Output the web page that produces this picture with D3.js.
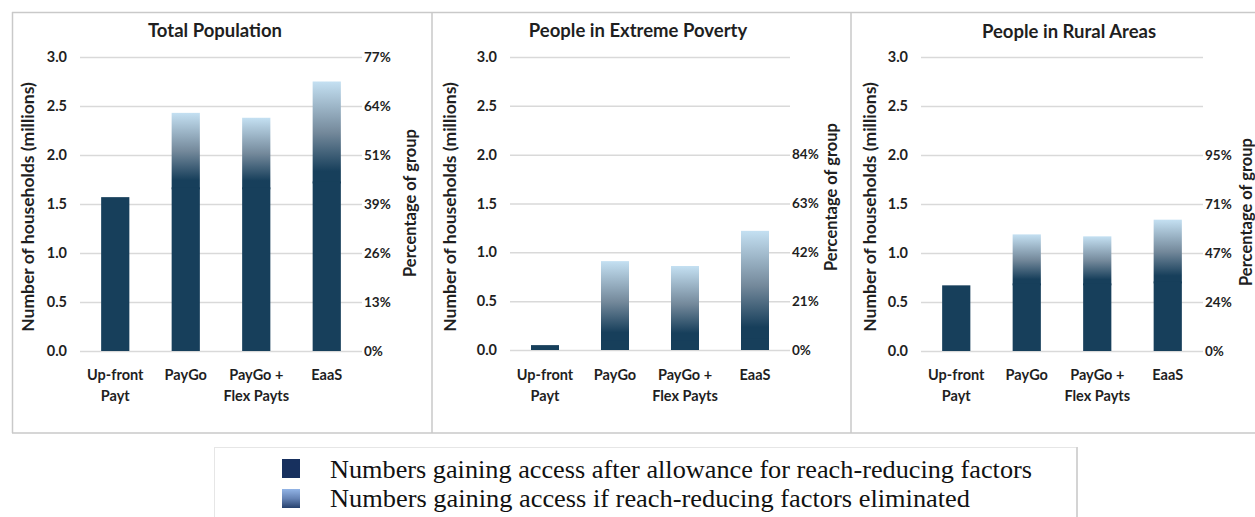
<!DOCTYPE html>
<html>
<head>
<meta charset="utf-8">
<script src="https://cdn.jsdelivr.net/npm/d3@7"></script>
<style>
  html, body { margin: 0; padding: 0; background: #ffffff; }
  svg { display: block; }
</style>
</head>
<body>
<svg id="chart" width="1255" height="517"></svg>
<script>
// ---------------- DATA ----------------
const categories = [["Up-front", "Payt"], ["PayGo"], ["PayGo +", "Flex Payts"], ["EaaS"]];
const panelTitles = ["Total Population", "People in Extreme Poverty", "People in Rural Areas"];
const yTickValues = [0, 0.5, 1.0, 1.5, 2.0, 2.5, 3.0];

// Numbers gaining access after allowance for reach-reducing factors (millions)
const afterTotal   = [1.57, 1.67, 1.67, 1.73];
const afterPoverty = [0.05, 0.10, 0.10, 0.12];
const afterRural   = [0.67, 0.69, 0.69, 0.71];

// Numbers gaining access if reach-reducing factors eliminated (millions)
const elimTotal   = [1.57, 2.43, 2.38, 2.75];
const elimPoverty = [0.05, 0.91, 0.86, 1.22];
const elimRural   = [0.67, 1.19, 1.17, 1.34];

// Secondary axis tick labels (percentage of group)
const pctTotal   = ["0%", "13%", "26%", "39%", "51%", "64%", "77%"];
const pctPoverty = ["0%", "21%", "42%", "63%", "84%"];
const pctRural   = ["0%", "24%", "47%", "71%", "95%"];

const leftAxisTitle = "Number of households (millions)";
const rightAxisTitle = "Percentage of group";
const legendLabels = [
  "Numbers gaining access after allowance for reach-reducing factors",
  "Numbers gaining access if reach-reducing factors eliminated"
];

// ---------------- LAYOUT ----------------
const panels = [
  { title: panelTitles[0], after: afterTotal, elim: elimTotal, pct: pctTotal,
    x0: 80, x1: 362, yTop: 57, yBot: 351, titleX: 215, titleY: 37,
    lTitleX: 28, lTitleY: 207, rTitleX: 410, rTitleY: 203 },
  { title: panelTitles[1], after: afterPoverty, elim: elimPoverty, pct: pctPoverty,
    x0: 510, x1: 790, yTop: 57, yBot: 350, titleX: 638, titleY: 37,
    lTitleX: 450, lTitleY: 207, rTitleX: 831, rTitleY: 197 },
  { title: panelTitles[2], after: afterRural, elim: elimRural, pct: pctRural,
    x0: 921, x1: 1203, yTop: 57, yBot: 351, titleX: 1069, titleY: 38,
    lTitleX: 870, lTitleY: 207, rTitleX: 1246, rTitleY: 212 }
];

const FONT = "Lato, 'Open Sans', sans-serif";
const TEXT = "#1f1f1f";
const DARK = "#173f5b";
const GRID = "#d9d9d9";
const BORDER = "#c9c9c9";

const svg = d3.select("#chart");
const defs = svg.append("defs");

const grad = defs.append("linearGradient")
  .attr("id", "barGrad").attr("x1", 0).attr("y1", 1).attr("x2", 0).attr("y2", 0);
grad.append("stop").attr("offset", "0%").attr("stop-color", DARK);
grad.append("stop").attr("offset", "12%").attr("stop-color", DARK);
grad.append("stop").attr("offset", "50%").attr("stop-color", "#74899b");
grad.append("stop").attr("offset", "100%").attr("stop-color", "#c4e0f2");

const legGrad = defs.append("linearGradient")
  .attr("id", "legGrad").attr("x1", 0).attr("y1", 1).attr("x2", 0).attr("y2", 0);
legGrad.append("stop").attr("offset", "0%").attr("stop-color", "#26416d");
legGrad.append("stop").attr("offset", "50%").attr("stop-color", "#6583b5");
legGrad.append("stop").attr("offset", "100%").attr("stop-color", "#92b4e6");

// panel borders
const borders = svg.append("g").attr("stroke", BORDER).attr("stroke-width", 1.5).attr("fill", "none");
borders.append("line").attr("x1", 12).attr("x2", 1255).attr("y1", 12.5).attr("y2", 12.5);
borders.append("line").attr("x1", 12).attr("x2", 1255).attr("y1", 433).attr("y2", 433);
[12.5, 432, 851].forEach(x =>
  borders.append("line").attr("x1", x).attr("x2", x).attr("y1", 12).attr("y2", 433));

panels.forEach(p => {
  const g = svg.append("g");
  const keys = categories.map(c => c.join(" "));
  const x = d3.scaleBand().domain(keys)
    .range([p.x0, p.x1]).paddingInner(0.6).paddingOuter(0.3);
  const y = d3.scaleLinear().domain([0, 3.0]).range([p.yBot, p.yTop]);

  // gridlines
  const grid = g.append("g").attr("transform", `translate(${p.x0},0)`)
    .call(d3.axisLeft(y).tickValues(yTickValues).tickSize(-(p.x1 - p.x0)).tickFormat(""));
  grid.select(".domain").remove();
  grid.selectAll("line").attr("stroke", GRID).attr("stroke-width", 1.5);

  // left axis labels
  const la = g.append("g").attr("transform", `translate(${p.x0},0)`)
    .call(d3.axisLeft(y).tickValues(yTickValues).tickSize(0).tickPadding(13).tickFormat(d3.format(".1f")));
  la.select(".domain").remove();
  la.selectAll("text").attr("font-family", FONT).attr("font-size", 14.5).attr("font-weight", 700).attr("fill", TEXT);

  // right axis labels
  const ra = g.append("g").attr("transform", `translate(${p.x1},0)`)
    .call(d3.axisRight(y).tickValues(yTickValues.slice(0, p.pct.length)).tickSize(0).tickPadding(2)
      .tickFormat((d, i) => p.pct[i]));
  ra.select(".domain").remove();
  ra.selectAll("text").attr("font-family", FONT).attr("font-size", 13.5).attr("font-weight", 700).attr("fill", TEXT);

  // bars: additional if eliminated (gradient), drawn first so the base overlaps the seam
  g.append("g").selectAll("rect.extra").data(keys).join("rect")
    .attr("class", "extra")
    .attr("x", d => x(d)).attr("width", x.bandwidth())
    .attr("y", (d, i) => y(p.elim[i]))
    .attr("height", (d, i) => p.elim[i] > p.after[i] ? y(p.after[i]) - y(p.elim[i]) + 2 : 0)
    .attr("fill", "url(#barGrad)");
  // bars: base (after allowance)
  g.append("g").selectAll("rect.base").data(keys).join("rect")
    .attr("class", "base")
    .attr("x", d => x(d)).attr("width", x.bandwidth())
    .attr("y", (d, i) => y(p.after[i]))
    .attr("height", (d, i) => y(0) - y(p.after[i]))
    .attr("fill", DARK);

  // category labels
  categories.forEach((c, i) => {
    const cx = x(keys[i]) + x.bandwidth() / 2;
    const t = g.append("text")
      .attr("text-anchor", "middle").attr("font-family", FONT).attr("font-size", 14.5)
      .attr("font-weight", 700).attr("fill", TEXT);
    c.forEach((line, j) => t.append("tspan").attr("x", cx).attr("y", 380 + j * 21).text(line));
  });

  // titles
  g.append("text").attr("x", p.titleX).attr("y", p.titleY).attr("text-anchor", "middle")
    .attr("font-family", FONT).attr("font-size", 18.5).attr("font-weight", 700).attr("fill", TEXT)
    .text(p.title);
  g.append("text").attr("transform", `translate(${p.lTitleX},${p.lTitleY}) rotate(-90)`)
    .attr("text-anchor", "middle").attr("dy", "0.35em")
    .attr("font-family", FONT).attr("font-size", 17.5).attr("font-weight", 700).attr("fill", TEXT)
    .text(leftAxisTitle);
  g.append("text").attr("transform", `translate(${p.rTitleX},${p.rTitleY}) rotate(-90)`)
    .attr("text-anchor", "middle").attr("dy", "0.35em")
    .attr("font-family", FONT).attr("font-size", 16.5).attr("font-weight", 700).attr("fill", TEXT)
    .text(rightAxisTitle);
});

// ---------------- LEGEND ----------------
const leg = svg.append("g");
leg.append("rect").attr("x", 214.5).attr("y", 447.5).attr("width", 862).attr("height", 80)
  .attr("fill", "#ffffff").attr("stroke", "#e6e6e6").attr("stroke-width", 1);
leg.append("line").attr("x1", 1077).attr("x2", 1077).attr("y1", 447).attr("y2", 517)
  .attr("stroke", "#d4d4d4").attr("stroke-width", 2);
leg.append("rect").attr("x", 282).attr("y", 459).attr("width", 18).attr("height", 19).attr("fill", "#17305e");
leg.append("rect").attr("x", 282).attr("y", 489).attr("width", 18).attr("height", 19).attr("fill", "url(#legGrad)");
const legLens = [702, 640];
legendLabels.forEach((t, i) => {
  leg.append("text").attr("x", 330).attr("y", 477.5 + i * 29.5)
    .attr("font-family", "'Liberation Serif', 'DejaVu Serif', serif").attr("font-size", 26)
    .attr("fill", "#111111")
    .attr("textLength", legLens[i]).attr("lengthAdjust", "spacingAndGlyphs")
    .text(t);
});
</script>
</body>
</html>
